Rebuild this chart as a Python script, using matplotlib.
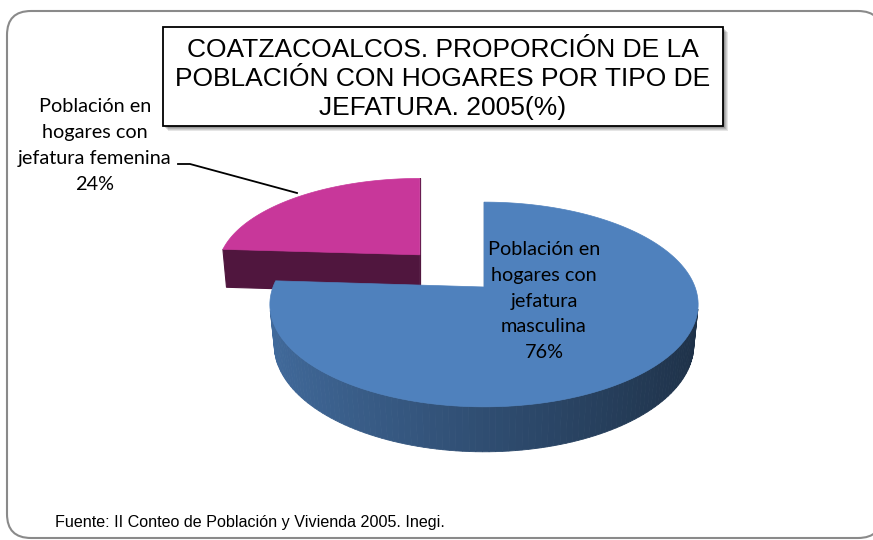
import numpy as np
import matplotlib.pyplot as plt
from matplotlib.patches import Polygon, Rectangle, FancyBboxPatch
from matplotlib.colors import to_rgb

# data
shares = [76, 24]
label_lines = [
    ["Población en", "hogares con", "jefatura", "masculina"],
    ["Población en", "hogares con", "jefatura femenina"],
]
top_colors = ["#4F81BD", "#C8379A"]
title_lines = ["COATZACOALCOS. PROPORCIÓN DE LA",
               "POBLACIÓN CON HOGARES POR TIPO DE",
               "JEFATURA. 2005(%)"]
source = "Fuente: II Conteo de Población y Vivienda 2005. Inegi."

fig = plt.figure(figsize=(8.73, 5.4), dpi=100)
ax = fig.add_axes([0, 0, 1, 1])
ax.set_xlim(0, 873)
ax.set_ylim(540, 0)
ax.axis("off")

# outer rounded frame
ax.add_patch(FancyBboxPatch((7, 11), 875, 527, boxstyle="round,pad=0,rounding_size=24",
                            fc="white", ec="#8a8a8a", lw=1.5, zorder=0))

# ---- 3D pie, simple perspective projection ----
cx, cy = 484, 287          # screen position of pie centre
S = 211                    # pixels per radius at centre depth
phi = np.radians(28.1)     # tilt
D = 5.17                   # camera distance (radius units)
H = 0.218                  # thickness
explode = [0.0, 0.47]


def depth(v, h):
    return D - (v * np.cos(phi) + h * np.sin(phi))


def proj(u, v, h, ou, ov):
    # slices shrink with depth around their own apex, like Excel does
    u, v, h = (np.atleast_1d(np.asarray(a, float)) for a in (u, v, h))
    d = depth(v, h)
    xa = cx + S * ou * D / depth(ov, 0.0)
    x = xa + S * (u - ou) * D / d
    y = cy + S * D * (v * np.sin(phi) - h * np.cos(phi)) / d
    return np.column_stack([x, y])


def shade(c, f):
    return tuple(np.clip(np.array(to_rgb(c)) * f, 0, 1))


bounds = np.concatenate([[0], np.cumsum(shares)]) / np.sum(shares) * 2 * np.pi

# back slice first (pink), then the front one (blue)
for i in [1, 0]:
    t0, t1 = bounds[i], bounds[i + 1]
    tm = (t0 + t1) / 2
    ou, ov = explode[i] * np.sin(tm), -explode[i] * np.cos(tm)
    cam = np.array([ou, D * np.cos(phi), D * np.sin(phi)])
    col = top_colors[i]
    z = 2 if i == 1 else 5

    # radial faces
    for t, sgn in [(t0, -1), (t1, 1)]:
        n = sgn * np.array([np.cos(t), np.sin(t), 0])
        p = np.array([ou + 0.5 * np.sin(t), ov - 0.5 * np.cos(t), -H / 2])
        if np.dot(n, cam - p) >= -1e-9:
            eu, ev = ou + np.sin(t), ov - np.cos(t)
            pts = np.vstack([proj(ou, ov, 0, ou, ov), proj(eu, ev, 0, ou, ov),
                             proj(eu, ev, -H, ou, ov), proj(ou, ov, -H, ou, ov)])
            fc = shade(col, 0.4)
            ax.add_patch(Polygon(pts, closed=True, fc=fc, ec=fc, lw=0.8, zorder=z))

    # outer curved wall
    ts = np.linspace(t0, t1, 180)
    for a, b in zip(ts[:-1], ts[1:]):
        m = (a + b) / 2
        n = np.array([np.sin(m), -np.cos(m), 0])
        p = np.array([ou + np.sin(m), ov - np.cos(m), -H / 2])
        if np.dot(n, cam - p) > 0:
            uu = ou + np.sin([a, b])
            vv = ov - np.cos([a, b])
            pts = np.vstack([proj(uu, vv, 0, ou, ov), proj(uu[::-1], vv[::-1], -H, ou, ov)])
            fc = shade(col, 0.60 - 0.23 * np.sin(m))
            ax.add_patch(Polygon(pts, closed=True, fc=fc, ec=fc, lw=0.6, zorder=z + 0.5))

    # top face
    arc = proj(ou + np.sin(ts), ov - np.cos(ts), np.zeros_like(ts), ou, ov)
    pts = np.vstack([proj(ou, ov, 0, ou, ov), arc])
    ax.add_patch(Polygon(pts, closed=True, fc=col, ec=col, lw=0.5, zorder=z + 1))

# ---- data labels ----
lab_kw = dict(family="Lato", fontsize=14.3, color="black", ha="center", va="baseline", zorder=10)
male = label_lines[0] + [f"{shares[0]}%"]
for j, s in enumerate(male):
    ax.text(544, 255 + j * 25.8, s, **lab_kw)
female = label_lines[1] + [f"{shares[1]}%"]
for j, s in enumerate(female):
    ax.text(95, 112 + j * 26, s, **lab_kw)
ax.plot([178, 190, 297], [164, 164, 193], color="black", lw=1.3, zorder=9)

# ---- title box with shadow ----
for k, a in enumerate([0.10, 0.10, 0.12, 0.15]):
    off = 5 - k
    ax.add_patch(Rectangle((163 + off, 27 + off), 560, 99, fc="black", ec="none",
                           alpha=a, zorder=11))
ax.add_patch(Rectangle((163, 27), 560, 99, fc="white", ec="black", lw=1.3, zorder=12))
for j, s in enumerate(title_lines):
    ax.text(443, 57 + j * 29, s, family="Liberation Sans", fontsize=19,
            ha="center", va="baseline", zorder=13)

ax.text(55, 527, source, family="Liberation Sans", fontsize=11.6, ha="left",
        va="baseline", zorder=10)

fig.savefig("out.png", dpi=100)
